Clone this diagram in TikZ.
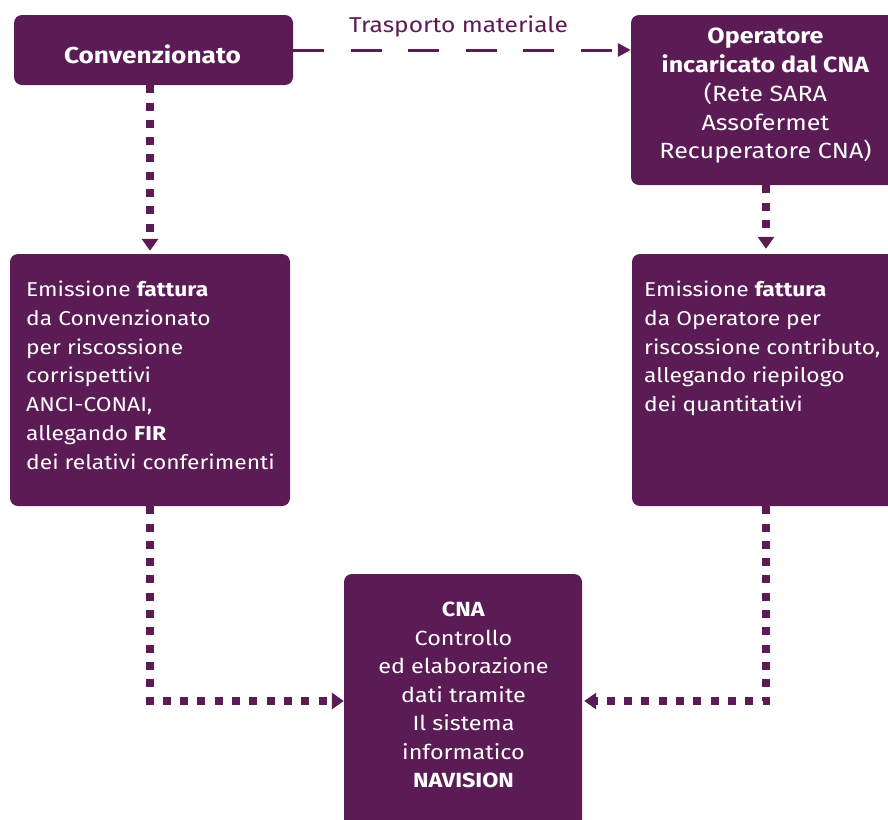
\documentclass[tikz,border=0pt]{standalone}
\usepackage{fontspec}
\setmainfont[FakeStretch=1.14]{Fira Sans}
\usetikzlibrary{arrows.meta}
\definecolor{pur}{RGB}{91,27,84}
\begin{document}
\begin{tikzpicture}[x=1pt,y=-1pt,
  box/.style={fill=pur,draw=none,rounded corners=8pt,inner sep=0pt},
  txt/.style={text=white,inner sep=0pt,font=\fontsize{20}{28.7}\selectfont},
  bigtxt/.style={text=white,inner sep=0pt,font=\fontsize{22}{28.75}\selectfont},
  dotline/.style={draw=pur,line width=8pt,dash pattern=on 8pt off 9.3pt,
    -{Triangle[length=12pt,width=16pt]}},
  dashline/.style={draw=pur,line width=3pt,dash pattern=on 31pt off 26.5pt,
    -{Triangle[length=13pt,width=13pt]}}]
\clip (0,0) rectangle (888,819);
\fill[white] (0,0) rectangle (888,819);
% boxes
\node[box,minimum width=279pt,minimum height=70pt] (conv) at (153.5,50) {};
\node[box,minimum width=269pt,minimum height=170pt] (oper) at (765.5,100) {};
\node[box,minimum width=280pt,minimum height=252pt] (fl) at (150,380) {};
\node[box,minimum width=268pt,minimum height=252pt] (fr) at (766,380) {};
\node[box,minimum width=238pt,minimum height=254pt] (cna) at (463,701) {};
% texts
\node[text=white,inner sep=0pt,font=\fontsize{23}{28}\selectfont\bfseries,anchor=base] (convt) at (152.5,63) {Convenzionato};
\node[bigtxt,align=center,anchor=north] (opert) at (765.5,28) {\textbf{Operatore}\\\textbf{incaricato dal CNA}\\(Rete SARA\\Assofermet\\Recuperatore CNA)};
\node[txt,align=left,anchor=north west] (flt) at (26,281) {Emissione \textbf{fattura}\\da Convenzionato\\per riscossione\\corrispettivi\\ANCI-CONAI,\\allegando \textbf{FIR}\\dei relativi conferimenti};
\node[txt,align=left,anchor=north west] (frt) at (644,281) {Emissione \textbf{fattura}\\da Operatore per\\riscossione contributo,\\allegando riepilogo\\dei quantitativi};
\node[txt,font=\fontsize{20.5}{28.5}\selectfont,align=center,anchor=north] (cnat) at (463.5,602) {\textbf{CNA}\\Controllo\\ed elaborazione\\dati tramite\\Il sistema\\informatico\\\textbf{NAVISION}};
\node[text=pur,inner sep=0pt,font=\fontsize{21.5}{28}\selectfont,anchor=base] (trl) at (458.5,32) {Trasporto materiale};
% connectors
\draw[dashline] (conv.east) -- (conv.east -| oper.west);
\draw[dotline,shorten >=3pt] (conv.south -| fl.north) -- (fl.north);
\draw[dotline,shorten >=5pt] (oper.south -| fr.north) -- (fr.north);
\draw[dotline] (fl.south) |- (cna.west);
\draw[dotline,shorten >=2pt] (fr.south) |- (cna.east);
\end{tikzpicture}
\end{document}
